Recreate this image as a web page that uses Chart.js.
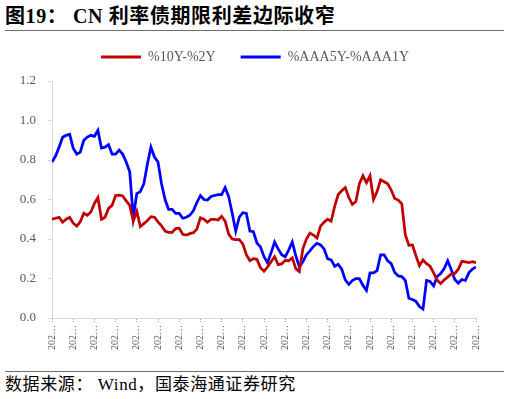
<!DOCTYPE html>
<html lang="zh">

<head>
    <meta charset="UTF-8">
    <title>CN 利率债期限利差</title>
    <script src="https://cdn.jsdelivr.net/npm/chart.js"></script>
    <style>
        body {
            margin: 0;
            width: 510px;
            height: 399px;
            background: #fff;
            position: relative;
            overflow: hidden;
        }

        #titulo {
            position: absolute;
            left: 5px;
            top: 5px;
            font: bold 20px "Liberation Serif", "Noto Sans CJK SC", serif;
            letter-spacing: 0.6px;
            color: #000;
            white-space: nowrap;
            line-height: 22px;
        }

        .linha {
            position: absolute;
            left: 5px;
            width: 499px;
            height: 1px;
            background: #6e6e6e;
        }

        #fonte {
            position: absolute;
            left: 5px;
            top: 376px;
            font: 17px "Liberation Serif", "Noto Sans CJK SC", serif;
            letter-spacing: 0.6px;
            color: #000;
            white-space: nowrap;
            line-height: 18px;
        }

        #grafico {
            position: absolute;
            left: 0;
            top: 17px;
        }
    </style>
</head>

<body onload="desenharGrafico()">

    <div id="titulo">图19：&nbsp;CN 利率债期限利差边际收窄</div>
    <div class="linha" style="top: 30px"></div>
    <canvas id="grafico" width="510" height="343"></canvas>
    <div class="linha" style="top: 371px"></div>
    <div id="fonte">数据来源：&nbsp;Wind，国泰海通证券研究</div>

</body>

</html>
<script>
    const seriesNames = ['%10Y-%2Y', '%AAA5Y-%AAA1Y']

    // dates shown on the axis (one every 6 weekly points)
    const tickLabels = ['2023-01-06', '2023-02-17', '2023-03-31', '2023-05-12', '2023-06-23', '2023-08-04',
        '2023-09-15', '2023-10-27', '2023-12-08', '2024-01-19', '2024-03-01', '2024-04-12', '2024-05-24',
        '2024-07-05', '2024-08-16', '2024-09-27', '2024-11-08', '2024-12-20', '2025-01-31', '2025-03-14',
        '2025-04-25']

    const spread10y2y = [0.50, 0.505, 0.51, 0.485, 0.50, 0.51, 0.48, 0.465, 0.487, 0.53,
        0.52, 0.537, 0.58, 0.61, 0.50, 0.51, 0.555, 0.57, 0.62, 0.622,
        0.618, 0.593, 0.57, 0.49, 0.54, 0.463, 0.478, 0.493, 0.513, 0.51,
        0.487, 0.467, 0.44, 0.433, 0.433, 0.453, 0.455, 0.424, 0.42, 0.427,
        0.432, 0.45, 0.507, 0.50, 0.485, 0.50, 0.50, 0.496, 0.515, 0.49,
        0.425, 0.40, 0.397, 0.397, 0.375, 0.32, 0.29, 0.30, 0.297, 0.255,
        0.237, 0.258, 0.285, 0.31, 0.27, 0.274, 0.292, 0.29, 0.305, 0.25,
        0.235, 0.35, 0.40, 0.43, 0.42, 0.405, 0.465, 0.485, 0.50, 0.49,
        0.565, 0.625, 0.644, 0.66, 0.61, 0.575, 0.59, 0.68, 0.72, 0.685,
        0.72, 0.60, 0.64, 0.70, 0.69, 0.68, 0.648, 0.605, 0.597, 0.578,
        0.42, 0.368, 0.37, 0.315, 0.265, 0.294, 0.275, 0.262, 0.228, 0.192,
        0.174, 0.193, 0.207, 0.223, 0.226, 0.247, 0.287, 0.284, 0.28, 0.285,
        0.28]

    const spreadAAA = [0.79, 0.82, 0.865, 0.915, 0.925, 0.93, 0.86, 0.83, 0.84, 0.90,
        0.916, 0.925, 0.92, 0.95, 0.86, 0.865, 0.878, 0.83, 0.83, 0.85,
        0.83, 0.79, 0.74, 0.51, 0.63, 0.64, 0.68, 0.78, 0.865, 0.815,
        0.79, 0.68, 0.60, 0.55, 0.55, 0.53, 0.53, 0.505, 0.51, 0.52,
        0.543, 0.585, 0.62, 0.60, 0.597, 0.615, 0.62, 0.625, 0.625, 0.66,
        0.615, 0.53, 0.44, 0.51, 0.533, 0.53, 0.44, 0.437, 0.38, 0.36,
        0.31, 0.28, 0.33, 0.385, 0.35, 0.32, 0.31, 0.345, 0.385, 0.315,
        0.26, 0.285, 0.32, 0.34, 0.362, 0.378, 0.37, 0.35, 0.30, 0.294,
        0.262, 0.272, 0.247, 0.193, 0.17, 0.19, 0.20, 0.20, 0.165, 0.14,
        0.228, 0.228, 0.24, 0.32, 0.32, 0.29, 0.275, 0.23, 0.213, 0.21,
        0.19, 0.10, 0.094, 0.084, 0.058, 0.045, 0.19, 0.185, 0.162, 0.21,
        0.225, 0.25, 0.29, 0.245, 0.195, 0.176, 0.195, 0.19, 0.23, 0.248,
        0.258]

    const yTicks = [0, 0.2, 0.4, 0.6, 0.8, 1.0, 1.2]

    const corTexto = '#595959'
    const corEixo = '#d9d9d9'
    const fonteSerif = '"Liberation Serif", "Times New Roman", serif'

    function pontos(valores) {
        return valores.map(function (v, i) {
            return { x: i, y: v }
        })
    }

    // blank axis, only used to reserve some room around the plot
    function margem(posicao, tamanho) {
        return {
            position: posicao,
            min: 0,
            max: 1,
            afterFit: function (scale) {
                if (posicao == 'top') {
                    scale.height = tamanho
                } else {
                    scale.width = tamanho
                }
            },
            ticks: { display: false },
            grid: { display: false },
            border: { display: false }
        }
    }

    function desenharGrafico() {
        const ctx = document.getElementById('grafico')
        const passo = (spread10y2y.length - 1) / (tickLabels.length - 1)

        new Chart(ctx, {
            type: 'line',
            data: {
                datasets: [
                    {
                        label: seriesNames[0],
                        data: pontos(spread10y2y),
                        borderColor: '#c00000',
                        backgroundColor: '#c00000',
                        borderWidth: 2.75,
                        pointRadius: 0,
                        tension: 0
                    },
                    {
                        label: seriesNames[1],
                        data: pontos(spreadAAA),
                        borderColor: '#0000ff',
                        backgroundColor: '#0000ff',
                        borderWidth: 2.75,
                        pointRadius: 0,
                        tension: 0
                    }
                ]
            },
            options: {
                responsive: false,
                animation: false,
                layout: {
                    padding: { top: 8, right: 0, bottom: 0, left: 0 }
                },
                plugins: {
                    tooltip: { enabled: false },
                    legend: {
                        labels: {
                            boxWidth: 40,
                            boxHeight: 3,
                            padding: 25,
                            color: corTexto,
                            font: { family: fonteSerif, size: 14 },
                            generateLabels: function (chart) {
                                const itens = Chart.defaults.plugins.legend.labels.generateLabels(chart)
                                itens.forEach(function (it) {
                                    it.lineWidth = 0
                                })
                                return itens
                            }
                        }
                    }
                },
                scales: {
                    x: {
                        type: 'linear',
                        min: 0,
                        max: spread10y2y.length - 1,
                        afterFit: function (scale) {
                            scale.height = 42
                        },
                        afterBuildTicks: function (scale) {
                            scale.ticks = tickLabels.map(function (_, k) {
                                return { value: k * passo }
                            })
                        },
                        ticks: {
                            autoSkip: false,
                            maxRotation: 90,
                            minRotation: 90,
                            padding: 3,
                            color: corTexto,
                            font: { family: fonteSerif, size: 10 },
                            callback: function (value) {
                                const k = Math.round(value / passo)
                                return tickLabels[k].slice(0, 3) + '…'
                            }
                        },
                        grid: {
                            drawOnChartArea: false,
                            drawTicks: true,
                            tickLength: 4,
                            color: '#a6a6a6',
                            tickBorderDash: [1, 1]
                        },
                        border: { color: corEixo }
                    },
                    y: {
                        min: yTicks[0],
                        max: yTicks[yTicks.length - 1],
                        afterFit: function (scale) {
                            scale.width = 52
                        },
                        afterBuildTicks: function (scale) {
                            scale.ticks = yTicks.map(function (v) {
                                return { value: v }
                            })
                        },
                        ticks: {
                            padding: 12,
                            color: corTexto,
                            font: { family: fonteSerif, size: 13 },
                            callback: function (value) {
                                return value.toFixed(1)
                            }
                        },
                        grid: {
                            drawOnChartArea: false,
                            drawTicks: true,
                            tickLength: 4,
                            color: corEixo
                        },
                        border: { color: corEixo }
                    },
                    margemDireita: margem('right', 34),
                    margemTopo: margem('top', 7)
                }
            }
        })
    }
</script>
